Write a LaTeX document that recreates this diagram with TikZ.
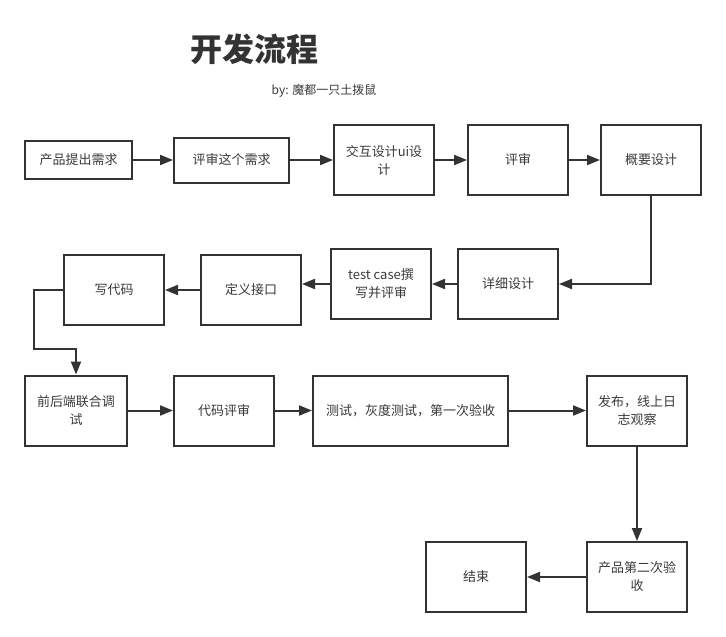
\documentclass[tikz,border=0pt]{standalone}
\usepackage{fontspec}
\setmainfont{Noto Sans CJK SC}
\usetikzlibrary{arrows.meta}
\definecolor{ink}{HTML}{333333}
\definecolor{txt}{HTML}{3A3A3A}
\begin{document}
\begin{tikzpicture}[x=1pt,y=-1pt,
  box/.style={draw=ink,line width=2pt,rectangle,inner sep=0pt,minimum width=100pt,minimum height=70pt,
    align=center,font=\fontsize{13pt}{18pt}\selectfont,text=txt,fill=white},
  conn/.style={draw=ink,line width=2pt,-{Triangle[length=13pt,width=10pt]}}]
\useasboundingbox[fill=white] (0,0) rectangle (726,637);
\node[font=\fontsize{32pt}{36pt}\selectfont\bfseries,text=ink] (title) at (254,49) {开发流程};
\node[font=\fontsize{12pt}{14pt}\selectfont,text=txt] (by) at (324,91) {by: 魔都一只土拨鼠};
\node[box,minimum width=107pt,minimum height=38pt] (b1) at (78.5,160) {产品提出需求};
\node[box,minimum width=115pt,minimum height=45pt] (b2) at (231.5,160) {评审这个需求};
\node[box] (b3) at (384,160) {交互设计ui设\\计};
\node[box] (b4) at (518,160) {评审};
\node[box] (b5) at (651,160) {概要设计};
\node[box] (b6) at (508,284) {详细设计};
\node[box] (b7) at (381,284) {test case撰\\写并评审};
\node[box] (b8) at (251,290) {定义接口};
\node[box] (b9) at (114,290) {写代码};
\node[box,minimum width=102pt] (b10) at (76,410.5) {前后端联合调\\试};
\node[box] (b11) at (224,410.5) {代码评审};
\node[box,minimum width=195pt] (b12) at (410.5,410.5) {测试，灰度测试，第一次验收};
\node[box] (b13) at (637,410.5) {发布，线上日\\志观察};
\node[box] (b14) at (637,577) {产品第二次验\\收};
\node[box] (b15) at (476,577) {结束};
\coordinate (c1) at (34,349);
\draw[conn] (b1) -- (b2);
\draw[conn] (b2) -- (b3);
\draw[conn] (b3) -- (b4);
\draw[conn] (b4) -- (b5);
\draw[conn] (b5.south) |- (b6.east);
\draw[conn] (b6) -- (b7);
\draw[conn] (b7.west) -- (b7.west -| b8.east);
\draw[conn] (b8) -- (b9);
\draw[conn] (b9.west) -| (c1) -| (b10.north);
\draw[conn] (b10) -- (b11);
\draw[conn] (b11) -- (b12);
\draw[conn] (b12) -- (b13);
\draw[conn] (b13) -- (b14);
\draw[conn] (b14) -- (b15);
\end{tikzpicture}
\end{document}
